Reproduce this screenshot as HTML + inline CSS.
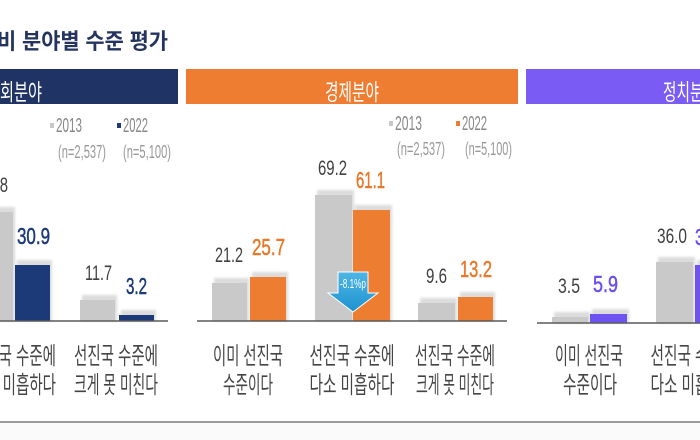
<!DOCTYPE html>
<html><head><meta charset="utf-8">
<style>
html,body{margin:0;padding:0;background:#fff;}
svg{display:block;}
text{font-family:"Liberation Sans","Noto Sans CJK KR",sans-serif;}
</style></head>
<body>
<svg width="700" height="440" viewBox="0 0 700 440" xmlns="http://www.w3.org/2000/svg">
<defs>
<filter id="bl" x="-20%" y="-20%" width="140%" height="140%"><feGaussianBlur stdDeviation="1.2"/></filter>
<linearGradient id="ag" x1="0" y1="0" x2="0" y2="1"><stop offset="0" stop-color="#4fb6e6"/><stop offset="1" stop-color="#1e92cf"/></linearGradient>
</defs>
<rect width="700" height="440" fill="#fff"/>

<!-- title -->
<text x="-3" y="49" font-size="22" font-weight="bold" fill="#24345f" textLength="171" lengthAdjust="spacingAndGlyphs">비 분야별 수준 평가</text>

<!-- header bars -->
<rect x="-2" y="69" width="180" height="35" fill="#1f3465"/>
<rect x="186" y="69" width="332" height="35" fill="#ee7d31"/>
<rect x="526" y="69" width="180" height="35" fill="#7a5cf5"/>
<text x="42" y="100" font-size="23" fill="#fff" text-anchor="end" textLength="56" lengthAdjust="spacingAndGlyphs">사회분야</text>
<text x="325" y="100" font-size="23" fill="#fff" textLength="54" lengthAdjust="spacingAndGlyphs">경제분야</text>
<text x="663" y="100" font-size="23" fill="#fff" textLength="54" lengthAdjust="spacingAndGlyphs">정치분야</text>

<!-- legends social -->
<rect x="50" y="123" width="4" height="5" fill="#c8c8c8"/>
<text x="56" y="132" font-size="20" fill="#888" textLength="26" lengthAdjust="spacingAndGlyphs">2013</text>
<rect x="117" y="123" width="4" height="5" fill="#1f3a78"/>
<text x="123" y="132" font-size="20" fill="#888" textLength="25" lengthAdjust="spacingAndGlyphs">2022</text>
<text x="58" y="158" font-size="18" fill="#999" textLength="48" lengthAdjust="spacingAndGlyphs">(n=2,537)</text>
<text x="123" y="158" font-size="18" fill="#999" textLength="48" lengthAdjust="spacingAndGlyphs">(n=5,100)</text>
<!-- legends econ -->
<rect x="389" y="121" width="4" height="5" fill="#c8c8c8"/>
<text x="395" y="130" font-size="20" fill="#888" textLength="27" lengthAdjust="spacingAndGlyphs">2013</text>
<rect x="456" y="121" width="4" height="5" fill="#ee7d31"/>
<text x="462" y="130" font-size="20" fill="#888" textLength="25" lengthAdjust="spacingAndGlyphs">2022</text>
<text x="397" y="155" font-size="18" fill="#999" textLength="48" lengthAdjust="spacingAndGlyphs">(n=2,537)</text>
<text x="465" y="155" font-size="18" fill="#999" textLength="47" lengthAdjust="spacingAndGlyphs">(n=5,100)</text>

<!-- shadows -->
<g fill="#dcdcdc" filter="url(#bl)">
<rect x="-20" y="207" width="35" height="114"/>
<rect x="17" y="260" width="35" height="61"/>
<rect x="82" y="295" width="35" height="26"/>
<rect x="121" y="310" width="35" height="11"/>
<rect x="214" y="278" width="35" height="43"/>
<rect x="252" y="272" width="36" height="49"/>
<rect x="317" y="190" width="37" height="131"/>
<rect x="355" y="205" width="37" height="116"/>
<rect x="420" y="298" width="37" height="23"/>
<rect x="460" y="292" width="35" height="29"/>
<rect x="554" y="312" width="36" height="11"/>
<rect x="592" y="309" width="37" height="14"/>
<rect x="658" y="257" width="37" height="66"/>
<rect x="697" y="260" width="37" height="63"/>
</g>

<!-- bars -->
<g fill="#c9c9c9">
<rect x="-22" y="212" width="35" height="109"/>
<rect x="80" y="300" width="35" height="21"/>
<rect x="212" y="283" width="35" height="38"/>
<rect x="315" y="195" width="37" height="126"/>
<rect x="418" y="303" width="37" height="18"/>
<rect x="552" y="317" width="36" height="6"/>
<rect x="656" y="262" width="37" height="61"/>
</g>
<g fill="#1c3a78">
<rect x="15" y="265" width="35" height="56"/>
<rect x="119" y="315" width="35" height="6"/>
</g>
<g fill="#ed7d31">
<rect x="250" y="277" width="36" height="44"/>
<rect x="353" y="210" width="37" height="111"/>
<rect x="458" y="297" width="35" height="24"/>
</g>
<g fill="#6f52f2">
<rect x="590" y="314" width="37" height="9"/>
<rect x="695" y="265" width="37" height="58"/>
</g>

<!-- axis lines -->
<g stroke="#5a5a5a" stroke-width="1.6">
<line x1="-2" y1="321" x2="168" y2="321"/>
<line x1="197" y1="321" x2="507" y2="321"/>
<line x1="537" y1="323" x2="702" y2="323"/>
</g>

<!-- arrow -->
<path d="M338 272 H368 V293 H378 L353 312 L328 293 H338 Z" fill="url(#ag)" stroke="#fff" stroke-width="1"/>
<text x="353" y="288" font-size="13" fill="#fff" text-anchor="middle" textLength="26" lengthAdjust="spacingAndGlyphs">-8.1%p</text>

<!-- 2013 value labels -->
<g font-size="21" fill="#404040">
<text x="-21" y="192" textLength="29" lengthAdjust="spacingAndGlyphs">54.8</text>
<text x="85" y="280" textLength="27" lengthAdjust="spacingAndGlyphs">11.7</text>
<text x="215" y="262" textLength="28" lengthAdjust="spacingAndGlyphs">21.2</text>
<text x="318" y="175" textLength="29" lengthAdjust="spacingAndGlyphs">69.2</text>
<text x="426" y="283" textLength="21" lengthAdjust="spacingAndGlyphs">9.6</text>
<text x="558" y="293" textLength="22" lengthAdjust="spacingAndGlyphs">3.5</text>
<text x="657" y="243" textLength="30" lengthAdjust="spacingAndGlyphs">36.0</text>
</g>
<!-- 2022 value labels -->
<g font-size="23" stroke-width="0.5">
<text x="17" y="244" fill="#1c3a78" stroke="#1c3a78" textLength="33" lengthAdjust="spacingAndGlyphs">30.9</text>
<text x="126" y="294" fill="#1c3a78" stroke="#1c3a78" textLength="21" lengthAdjust="spacingAndGlyphs">3.2</text>
<text x="252" y="255" fill="#e8782a" stroke="#e8782a" textLength="33" lengthAdjust="spacingAndGlyphs">25.7</text>
<text x="356" y="188" fill="#e8782a" stroke="#e8782a" textLength="29" lengthAdjust="spacingAndGlyphs">61.1</text>
<text x="460" y="277" fill="#e8782a" stroke="#e8782a" textLength="32" lengthAdjust="spacingAndGlyphs">13.2</text>
<text x="593" y="292" fill="#6a4ff0" stroke="#6a4ff0" textLength="25" lengthAdjust="spacingAndGlyphs">5.9</text>
<text x="695" y="245" fill="#6a4ff0" stroke="#6a4ff0" textLength="33" lengthAdjust="spacingAndGlyphs">35.1</text>
</g>

<!-- category labels -->
<g font-size="24" fill="#444" text-anchor="middle">
<text x="14" y="364" textLength="84" lengthAdjust="spacingAndGlyphs">선진국 수준에</text>
<text x="14" y="393" textLength="84" lengthAdjust="spacingAndGlyphs">다소 미흡하다</text>
<text x="116" y="364" textLength="84" lengthAdjust="spacingAndGlyphs">선진국 수준에</text>
<text x="116" y="393" textLength="84" lengthAdjust="spacingAndGlyphs">크게 못 미친다</text>

<text x="248" y="364" textLength="70" lengthAdjust="spacingAndGlyphs">이미 선진국</text>
<text x="248" y="393" textLength="50" lengthAdjust="spacingAndGlyphs">수준이다</text>
<text x="352" y="364" textLength="85" lengthAdjust="spacingAndGlyphs">선진국 수준에</text>
<text x="352" y="393" textLength="85" lengthAdjust="spacingAndGlyphs">다소 미흡하다</text>
<text x="455" y="364" textLength="80" lengthAdjust="spacingAndGlyphs">선진국 수준에</text>
<text x="455" y="393" textLength="78" lengthAdjust="spacingAndGlyphs">크게 못 미친다</text>

<text x="589" y="364" textLength="68" lengthAdjust="spacingAndGlyphs">이미 선진국</text>
<text x="590" y="393" textLength="54" lengthAdjust="spacingAndGlyphs">수준이다</text>
<text x="693" y="364" textLength="85" lengthAdjust="spacingAndGlyphs">선진국 수준에</text>
<text x="693" y="393" textLength="85" lengthAdjust="spacingAndGlyphs">다소 미흡하다</text>
</g>

<!-- bottom line -->
<line x1="0" y1="422" x2="700" y2="422" stroke="#9a9a9a" stroke-width="2"/>
<rect x="0" y="423" width="700" height="17" fill="#fafafa"/>
</svg>
</body></html>
